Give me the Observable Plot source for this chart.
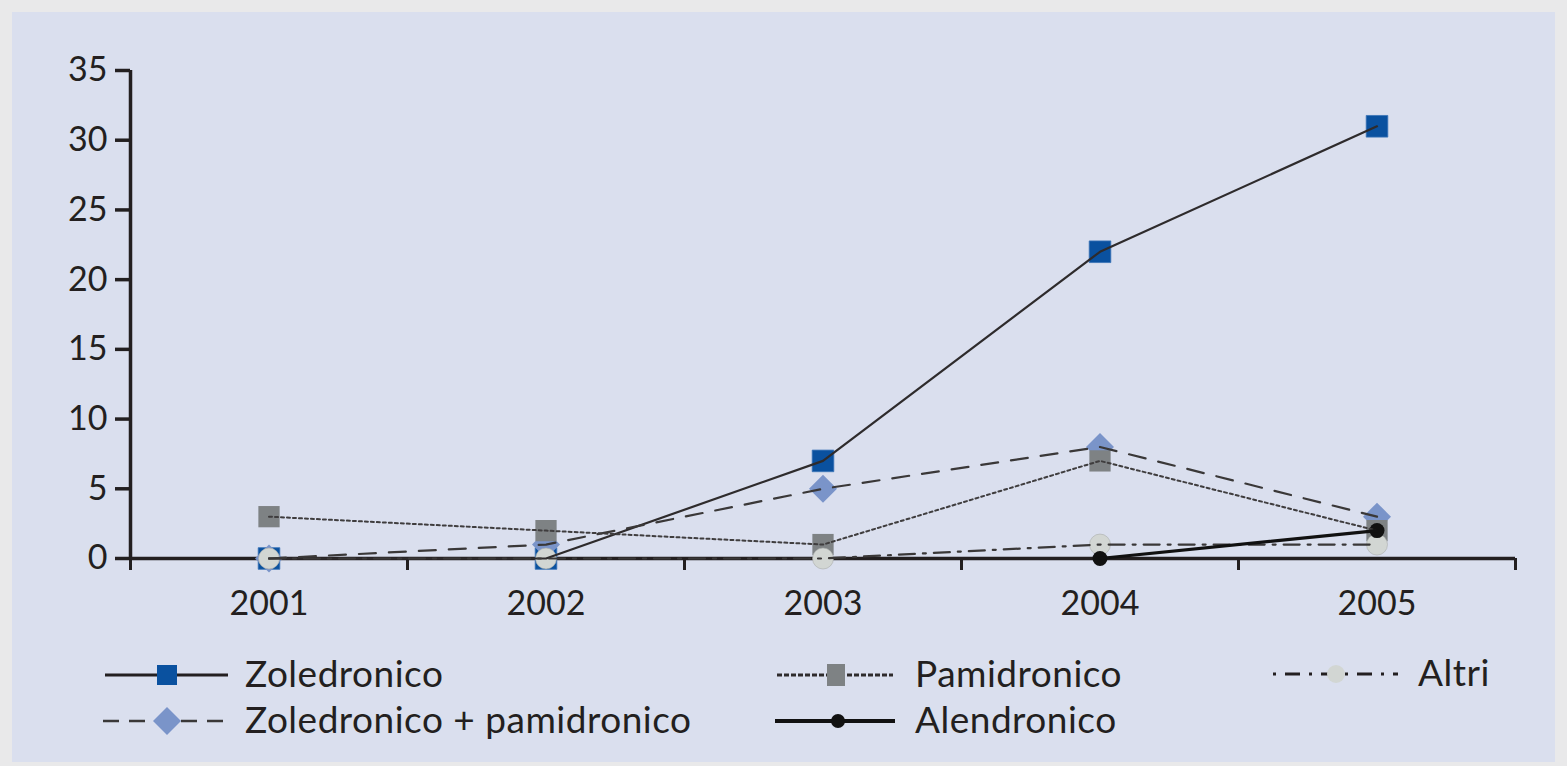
<!DOCTYPE html>
<html><head><meta charset="utf-8">
<script src="https://cdn.jsdelivr.net/npm/d3@7"></script>
<script src="https://cdn.jsdelivr.net/npm/@observablehq/plot@0.6"></script>
<style>
html,body{margin:0;padding:0;background:#e9e9ea;width:1567px;height:766px;overflow:hidden;}
#panel{position:absolute;left:12px;top:12px;width:1543px;height:750px;background:#dadfee;}
#chart{position:absolute;left:0;top:0;}
#legend{position:absolute;left:0;top:0;}
</style></head><body>
<div id="panel"></div><div id="chart"></div><svg id="legend" width="1567" height="766"></svg>
<script>
const years = [2001, 2002, 2003, 2004, 2005];
const zoledronico = [0, 0, 7, 22, 31];
const pamidronico = [3, 2, 1, 7, 2];
const zolPam = [0, 1, 5, 8, 3];
const altri = [0, 0, 0, 1, 1];
const alendronicoYears = [2004, 2005];
const alendronico = [0, 2];
const yTicks = [0, 5, 10, 15, 20, 25, 30, 35];
const xBoundaries = [2000.5, 2001.5, 2002.5, 2003.5, 2004.5, 2005.5];
const seriesNames = ["Zoledronico", "Pamidronico", "Altri", "Zoledronico + pamidronico", "Alendronico"];

const rows = (name, xs, vs) => xs.map((x, i) => ({series: name, year: x, value: vs[i]}));
const dZol = rows(seriesNames[0], years, zoledronico);
const dPam = rows(seriesNames[1], years, pamidronico);
const dAltri = rows(seriesNames[2], years, altri);
const dZP = rows(seriesNames[3], years, zolPam);
const dAlen = rows(seriesNames[4], alendronicoYears, alendronico);

const ink = "#231f20";
const font = "Lato, 'Open Sans', sans-serif";

const chart = Plot.plot({
  width: 1567,
  height: 640,
  marginLeft: 130,
  marginRight: 52,
  marginTop: 70,
  marginBottom: 82,
  style: {background: "transparent", fontFamily: font, fontSize: "34px", color: ink, overflow: "visible"},
  x: {type: "linear", domain: [2000.5, 2005.5]},
  y: {domain: [0, 35]},
  marks: [
    Plot.axisY({ticks: yTicks, tickSize: 15, tickPadding: 8, strokeWidth: 3.5, stroke: ink, fill: ink, label: null, tickFormat: d => String(d)}),
    Plot.axisX({ticks: xBoundaries, tickSize: 12, strokeWidth: 3, stroke: ink, tickFormat: () => "", label: null}),
    Plot.axisX({ticks: years, tickSize: 0, tickPadding: 32, fill: ink, tickFormat: d => String(d), label: null}),
    Plot.ruleX([2000.5], {y1: 0, y2: 35, stroke: ink, strokeWidth: 3.5}),
    Plot.ruleY([0], {stroke: ink, strokeWidth: 3.5}),
    // markers
    Plot.dot(dZol, {x: "year", y: "value", symbol: "square", r: 12.2, fill: "#0a519f", stroke: "#3a74b8", strokeWidth: 0.8}),
    Plot.dot(dZP, {x: "year", y: "value", symbol: "diamond2", r: 12.6, fill: "#7a94c9"}),
    Plot.dot(dPam, {x: "year", y: "value", symbol: "square", r: 12, fill: "#7e8284"}),
    Plot.dot(dAltri, {x: "year", y: "value", r: 10.5, fill: "#d2d6d3", stroke: "#a9adab", strokeWidth: 0.6}),
    Plot.dot(dAlen, {x: "year", y: "value", r: 7.5, fill: "#111"}),
    // lines
    Plot.line(dZol, {x: "year", y: "value", stroke: "#2e2b2c", strokeWidth: 2.2}),
    Plot.line(dZP, {x: "year", y: "value", stroke: "#3a3838", strokeWidth: 2.2, strokeDasharray: "17,13"}),
    Plot.line(dPam, {x: "year", y: "value", stroke: "#3f3d3e", strokeWidth: 2, strokeDasharray: "3,3"}),
    Plot.line(dAltri, {x: "year", y: "value", stroke: "#3a3838", strokeWidth: 2.2, strokeDasharray: "16,8,3,8"}),
    Plot.line(dAlen, {x: "year", y: "value", stroke: "#111", strokeWidth: 3.2})
  ]
});
document.getElementById("chart").appendChild(chart);

// Legend
const legendItems = [
  {name: seriesNames[0], y: 675, x0: 105, x1: 228, mx: 167, tx: 245, dash: null, sw: 3, color: ink, marker: "square", mfill: "#0a519f", size: 20},
  {name: seriesNames[1], y: 675, x0: 777, x1: 893, mx: 836, tx: 915, dash: "5,2", sw: 3, color: "#2e2b2c", marker: "rect", mfill: "#7e8284", size: 20},
  {name: seriesNames[2], y: 674, x0: 1273, x1: 1398, mx: 1336, tx: 1418, dash: "3,9,15,9", sw: 3, color: ink, marker: "circle", mfill: "#d2d6d3", size: 9},
  {name: seriesNames[3], y: 721, x0: 103, x1: 228, mx: 167, tx: 245, dash: "16,10", sw: 2.5, color: "#3a3838", marker: "diamond", mfill: "#7a94c9", size: 14},
  {name: seriesNames[4], y: 721, x0: 775, x1: 895, mx: 838, tx: 915, dash: null, sw: 4, color: "#111", marker: "circle", mfill: "#111", size: 7}
];
const lg = d3.select("#legend");
for (const it of legendItems) {
  const g = lg.append("g");
  const ln = g.append("line").attr("x1", it.x0).attr("x2", it.x1).attr("y1", it.y).attr("y2", it.y)
    .attr("stroke", it.color).attr("stroke-width", it.sw);
  if (it.dash) ln.attr("stroke-dasharray", it.dash);
  if (it.marker === "square") {
    g.append("rect").attr("x", it.mx - it.size / 2).attr("y", it.y - it.size / 2).attr("width", it.size).attr("height", it.size).attr("fill", it.mfill);
  } else if (it.marker === "rect") {
    g.append("rect").attr("x", it.mx - 9).attr("y", it.y - 11).attr("width", 18).attr("height", 22).attr("fill", it.mfill);
  } else if (it.marker === "circle") {
    g.append("circle").attr("cx", it.mx).attr("cy", it.y).attr("r", it.size).attr("fill", it.mfill);
  } else if (it.marker === "diamond") {
    const s = it.size;
    g.append("path").attr("d", `M${it.mx},${it.y - s}L${it.mx + s},${it.y}L${it.mx},${it.y + s}L${it.mx - s},${it.y}Z`).attr("fill", it.mfill);
  }
  g.append("text").attr("x", it.tx).attr("y", it.y + 12).attr("fill", ink)
    .attr("font-family", font).attr("font-size", 37).attr("letter-spacing", 0.5).text(it.name);
}
</script>
</body></html>
